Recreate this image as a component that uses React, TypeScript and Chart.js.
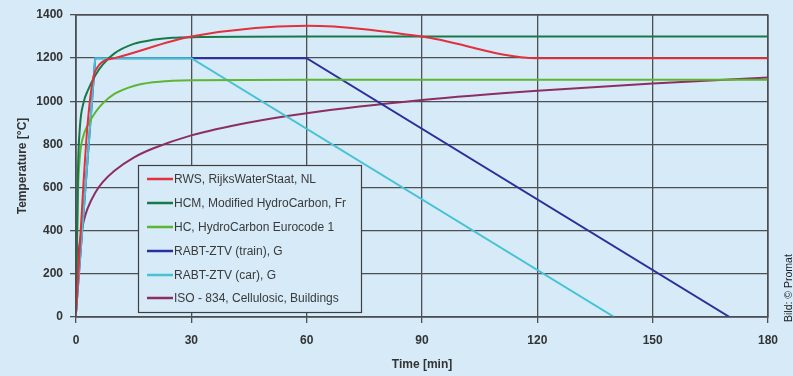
import React, { useEffect, useRef } from "react";
import { Chart, registerables } from "chart.js";

Chart.register(...registerables);

// ---- data ----
const seriesNames = [
  "RWS, RijksWaterStaat, NL",
  "HCM, Modified HydroCarbon, Fr",
  "HC, HydroCarbon Eurocode 1",
  "RABT-ZTV (train), G",
  "RABT-ZTV (car), G",
  "ISO - 834, Cellulosic, Buildings",
];
const seriesColors = ["#e2303c", "#17794a", "#5cb631", "#2b2f9c", "#45c3d6", "#8c2e62"];

const rwsTime = [0, 3, 5, 10, 30, 60, 90, 120, 180];
const rwsTemp = [20, 890, 1140, 1200, 1300, 1350, 1300, 1200, 1200];

const hcmTime = [0, 0.5, 1, 2, 3, 5, 7, 10, 15, 20, 25, 30, 60, 120, 180];
const hcmTemp = [20, 670, 877, 996, 1047, 1120, 1171, 1222, 1266, 1285, 1294, 1297, 1300, 1300, 1300];

const hcTime = [0, 0.5, 1, 2, 3, 5, 7, 10, 15, 20, 25, 30, 60, 120, 180];
const hcTemp = [20, 569, 743, 844, 887, 948, 991, 1034, 1071, 1088, 1095, 1098, 1100, 1100, 1100];

const trainTime = [0, 5, 60, 170];
const trainTemp = [20, 1200, 1200, 0];

const carTime = [0, 5, 30, 140];
const carTemp = [20, 1200, 1200, 0];

const isoTime = [0, 0.5, 1, 2, 3, 5, 7, 10, 15, 20, 30, 45, 60, 90, 120, 150, 180];
const isoTemp = [20, 261, 349, 444, 502, 576, 626, 678, 739, 781, 842, 902, 945, 1006, 1049, 1082, 1110];

const xTicks = [0, 30, 60, 90, 120, 150, 180];
const yTicks = [0, 200, 400, 600, 800, 1000, 1200, 1400];

const BG = "#d6eaf8";
const GRID = "#4d4f52";
const TEXT = "#333333";

function pts(t: number[], v: number[]) {
  return t.map((x, i) => ({ x, y: v[i] }));
}

const legendPlugin = {
  id: "insideLegend",
  afterDatasetsDraw(chart: any) {
    const ctx = chart.ctx as CanvasRenderingContext2D;
    ctx.save();
    const bx = 138, by = 165, bw = 223, bh = 147;
    ctx.fillStyle = BG;
    ctx.fillRect(bx, by, bw, bh);
    ctx.strokeStyle = "#3d3f42";
    ctx.lineWidth = 1.2;
    ctx.strokeRect(bx + 0.5, by + 0.5, bw, bh);
    const rowY = [179, 203, 227, 251, 275, 298];
    ctx.font = "12px 'Liberation Sans', Arial, sans-serif";
    ctx.textBaseline = "middle";
    seriesNames.forEach((name, i) => {
      ctx.strokeStyle = seriesColors[i];
      ctx.lineWidth = 2.5;
      ctx.beginPath();
      ctx.moveTo(147, rowY[i]);
      ctx.lineTo(173, rowY[i]);
      ctx.stroke();
      ctx.fillStyle = "#3a3a3a";
      ctx.fillText(name, 174, rowY[i] + 0.5);
    });
    // credit
    ctx.translate(789, 322);
    ctx.rotate(-Math.PI / 2);
    ctx.font = "10.5px 'Liberation Sans', Arial, sans-serif";
    ctx.fillStyle = "#1a1a1a";
    ctx.textAlign = "left";
    ctx.fillText("Bild: © Promat", 0, 0);
    ctx.restore();
  },
};

export default function App() {
  const ref = useRef<HTMLCanvasElement>(null);
  useEffect(() => {
    if (!ref.current) return;
    const curve = (i: number, t: number[], v: number[], smooth: boolean, order: number) => ({
      label: seriesNames[i],
      data: pts(t, v),
      borderColor: seriesColors[i],
      backgroundColor: seriesColors[i],
      borderWidth: 2,
      pointRadius: 0,
      fill: false,
      order,
      tension: smooth ? 0.4 : 0,
      cubicInterpolationMode: smooth ? ("monotone" as const) : ("default" as const),
    });
    const tickFont = { family: "'Liberation Sans', Arial, sans-serif", size: 12, weight: "bold" as const };
    const chart = new Chart(ref.current, {
      type: "line",
      data: {
        datasets: [
          curve(0, rwsTime, rwsTemp, true, 1),
          curve(1, hcmTime, hcmTemp, true, 2),
          curve(2, hcTime, hcTemp, true, 3),
          curve(3, trainTime, trainTemp, false, 5),
          curve(4, carTime, carTemp, false, 4),
          curve(5, isoTime, isoTemp, true, 6),
        ],
      },
      options: {
        animation: false,
        responsive: false,
        devicePixelRatio: 1,
        layout: { padding: { top: 15, right: 25, left: 0, bottom: 0 } },
        plugins: { legend: { display: false }, tooltip: { enabled: false } },
        scales: {
          x: {
            type: "linear",
            min: 0,
            max: 180,
            afterBuildTicks: (s: any) => {
              s.ticks = xTicks.map((v) => ({ value: v }));
            },
            afterFit: (s: any) => {
              s.height = 59;
            },
            ticks: {
              font: tickFont,
              color: TEXT,
              padding: 10,
              maxRotation: 0,
              callback: (v: any) => String(v),
            },
            grid: { color: GRID, lineWidth: 1.3, tickLength: 6 },
            border: { color: GRID, width: 1.3 },
            title: {
              display: true,
              text: "Time [min]",
              font: tickFont,
              color: TEXT,
              padding: { top: 0, bottom: 4 },
            },
          },
          y: {
            type: "linear",
            min: 0,
            max: 1400,
            afterBuildTicks: (s: any) => {
              s.ticks = yTicks.map((v) => ({ value: v }));
            },
            afterFit: (s: any) => {
              s.width = 76;
            },
            ticks: { font: tickFont, color: TEXT, padding: 7, callback: (v: any) => String(v) },
            grid: { color: GRID, lineWidth: 1.3, tickLength: 6 },
            border: { color: GRID, width: 1.3 },
            title: {
              display: true,
              text: "Temperature [°C]",
              font: tickFont,
              color: TEXT,
              padding: { top: 15, bottom: 0 },
            },
          },
        },
      },
      plugins: [
        legendPlugin,
        {
          id: "frame",
          afterDraw(c: any) {
            const { left, right, top, bottom } = c.chartArea;
            const ctx = c.ctx as CanvasRenderingContext2D;
            ctx.save();
            ctx.strokeStyle = GRID;
            ctx.lineWidth = 1.3;
            ctx.strokeRect(left, top, right - left, bottom - top);
            ctx.restore();
          },
        },
      ],
    });
    return () => chart.destroy();
  }, []);
  return (
    <div
      style={{
        position: "fixed",
        left: 0,
        top: 0,
        width: 793,
        height: 376,
        background: BG,
        overflow: "hidden",
      }}
    >
      <canvas ref={ref} width={793} height={376} style={{ display: "block" }} />
    </div>
  );
}
